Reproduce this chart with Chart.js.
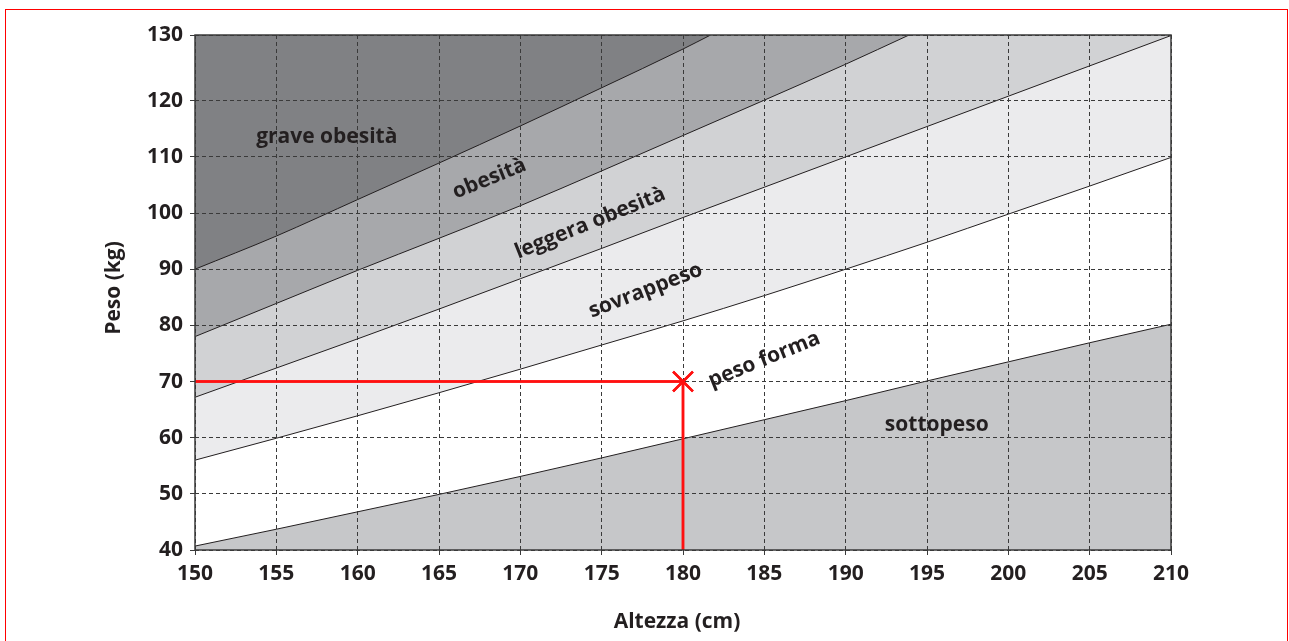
<!DOCTYPE html>
<html lang="it">
<head>
<meta charset="utf-8">
<title>Peso / Altezza</title>
<script src="https://cdn.jsdelivr.net/npm/chart.js@4.4.1/dist/chart.umd.min.js"></script>
<style>
  html, body { margin: 0; padding: 0; background: #ffffff; }
  body { width: 1289px; height: 641px; position: relative; overflow: hidden; }
  #chart { position: absolute; left: 0; top: 0; }
</style>
</head>
<body>
<canvas id="chart" width="1289" height="641"></canvas>
<script>
// ============================================
// DATA
// ============================================
const HEIGHTS = [150, 155, 160, 165, 170, 175, 180, 185, 190, 195, 200, 205, 210];

// upper limit of each zone, kg
const SOTTOPESO_LIMIT  = [40.7, 43.7, 46.8, 49.9, 53.1, 56.4, 59.8, 63.2, 66.6, 70.1, 73.5, 76.9, 80.2];
const PESO_FORMA_LIMIT = [56.0, 59.9, 63.9, 68.0, 72.2, 76.5, 80.8, 85.3, 90.0, 94.8, 99.8, 104.8, 109.9];
const SOVRAPPESO_LIMIT = [67.2, 72.4, 77.6, 82.9, 88.3, 93.7, 99.2, 104.6, 110.0, 115.4, 120.8, 126.2, 131.6];

// these two leave the chart through the top edge
const LEGGERA_HEIGHTS = [150, 155, 160, 165, 170, 175, 180, 185, 190, 193.9];
const LEGGERA_LIMIT   = [78.0, 83.9, 89.8, 95.5, 101.3, 107.5, 113.8, 120.1, 126.5, 131.7];
const OBESITA_HEIGHTS = [150, 155, 160, 165, 170, 175, 180, 181.7];
const OBESITA_LIMIT   = [90.0, 95.9, 102.4, 108.9, 115.5, 122.3, 129.2, 131.7];

// example person
const MY_HEIGHT = 180;
const MY_WEIGHT = 70;

const X_MIN = 150, X_MAX = 210, X_STEP = 5;
const Y_MIN = 40, Y_MAX = 131.7;
const Y_TICK_VALUES = [40, 50, 60, 70, 80, 90, 100, 110, 120, 131.7];
const Y_TICK_LABELS = ["40", "50", "60", "70", "80", "90", "100", "110", "120", "130"];

// zone names (drawn inside the chart)
const ZONE_NAMES = ["grave obesità", "obesità", "leggera obesità", "sovrappeso", "peso forma", "sottopeso"];
const ZONE_X     = [158.1, 168.1, 174.3, 177.7, 185.0, 195.6];
const ZONE_Y     = [113.6, 106.1, 98.2, 86.2, 73.9, 62.3];
const ZONE_ANGLE = [0, -22, -22, -21, -22, 0];

// ============================================
// STYLE
// ============================================
const FONT = "'Open Sans', 'DejaVu Sans', sans-serif";
const TEXT_COLOR = "#231f20";
const LINE_COLOR = "#231f20";
const RED = "#ff1010";
const COLORS = {
    grave: "#808184",
    obesita: "#a7a8ab",
    leggera: "#d1d2d4",
    sovrappeso: "#ebebed",
    sottopeso: "#c6c7c9"
};

function toPoints(xs, ys) {
    return xs.map((x, i) => ({ x: x, y: ys[i] }));
}

function zoneLine(xs, ys, fill, color) {
    return {
        data: toPoints(xs, ys),
        borderColor: LINE_COLOR,
        borderWidth: 1,
        backgroundColor: color,
        fill: fill,
        pointRadius: 0,
        cubicInterpolationMode: "monotone"
    };
}

// ============================================
// PLUGIN: red lines on top, frames, texts
// ============================================
const overlayPlugin = {
    id: "overlay",
    afterDraw(chart) {
        const { ctx, chartArea: a, scales } = chart;

        // the grid is drawn over the zones, so redraw the red marks over it
        [2, 1, 0].forEach(i => chart.getDatasetMeta(i).controller.draw());

        ctx.save();

        // thin red page frame
        ctx.strokeStyle = "#ff0000";
        ctx.lineWidth = 1;
        ctx.strokeRect(5.5, 9.5, 1282, 700);

        // plot frame
        ctx.strokeStyle = "#3a3a3a";
        ctx.lineWidth = 1.5;
        ctx.strokeRect(a.left, a.top, a.right - a.left, a.bottom - a.top);

        ctx.fillStyle = TEXT_COLOR;
        ctx.textAlign = "center";
        ctx.textBaseline = "middle";
        ctx.font = "bold 21px " + FONT;

        ZONE_NAMES.forEach((name, i) => {
            const px = scales.x.getPixelForValue(ZONE_X[i]);
            const py = scales.y.getPixelForValue(ZONE_Y[i]);
            ctx.save();
            ctx.translate(px, py);
            ctx.rotate(ZONE_ANGLE[i] * Math.PI / 180);
            ctx.fillText(name, 0, 0);
            ctx.restore();
        });

        // axis titles
        ctx.fillText("Altezza (cm)", (a.left + a.right) / 2 - 6, 622);
        ctx.save();
        ctx.translate(114, 288);
        ctx.rotate(-Math.PI / 2);
        ctx.fillText("Peso (kg)", 0, 0);
        ctx.restore();

        ctx.restore();
    }
};

// ============================================
// CHART
// ============================================
function drawChart() {
    const ctx = document.getElementById("chart").getContext("2d");

    const gridOpts = {
        color: "#3a3a3a",
        lineWidth: 1,
        z: 1,
        drawTicks: true,
        tickLength: 5,
        tickColor: "#3a3a3a",
        tickBorderDash: []
    };

    new Chart(ctx, {
        type: "line",
        data: {
            datasets: [
                // 0: the X marker
                {
                    data: [{ x: MY_HEIGHT, y: MY_WEIGHT }],
                    showLine: false,
                    pointStyle: "crossRot",
                    pointRadius: 14,
                    pointBorderColor: RED,
                    pointBorderWidth: 2.5,
                    borderColor: RED
                },
                // 1: horizontal red line
                {
                    data: [{ x: X_MIN, y: MY_WEIGHT }, { x: MY_HEIGHT, y: MY_WEIGHT }],
                    borderColor: RED,
                    borderWidth: 2.5,
                    pointRadius: 0
                },
                // 2: vertical red line
                {
                    data: [{ x: MY_HEIGHT, y: Y_MIN }, { x: MY_HEIGHT, y: MY_WEIGHT }],
                    borderColor: RED,
                    borderWidth: 2.5,
                    pointRadius: 0
                },
                zoneLine(OBESITA_HEIGHTS, OBESITA_LIMIT, "end", COLORS.grave),
                zoneLine(LEGGERA_HEIGHTS, LEGGERA_LIMIT, "end", COLORS.obesita),
                zoneLine(HEIGHTS, SOVRAPPESO_LIMIT, "end", COLORS.leggera),
                zoneLine(HEIGHTS, PESO_FORMA_LIMIT, "end", COLORS.sovrappeso),
                zoneLine(HEIGHTS, SOTTOPESO_LIMIT, "start", COLORS.sottopeso)
            ]
        },
        options: {
            responsive: false,
            animation: false,
            events: [],
            layout: { padding: { top: 35, right: 118, left: 0, bottom: 0 } },
            plugins: {
                legend: { display: false },
                tooltip: { enabled: false }
            },
            scales: {
                x: {
                    type: "linear",
                    min: X_MIN,
                    max: X_MAX,
                    grid: gridOpts,
                    border: { display: false, dash: [4, 3] },
                    ticks: {
                        stepSize: X_STEP,
                        color: TEXT_COLOR,
                        padding: 6,
                        maxRotation: 0,
                        font: { family: FONT, size: 21, weight: "bold" }
                    },
                    afterFit: s => { s.height = 91; }
                },
                y: {
                    type: "linear",
                    min: Y_MIN,
                    max: Y_MAX,
                    grid: gridOpts,
                    border: { display: false, dash: [4, 3] },
                    afterBuildTicks: s => { s.ticks = Y_TICK_VALUES.map(v => ({ value: v })); },
                    ticks: {
                        color: TEXT_COLOR,
                        padding: 7,
                        font: { family: FONT, size: 21, weight: "bold" },
                        callback: (value, index) => Y_TICK_LABELS[index]
                    },
                    afterFit: s => { s.width = 195; }
                }
            }
        },
        plugins: [overlayPlugin]
    });
}

Promise.all([
    document.fonts.load("bold 21px 'Open Sans'")
]).then(drawChart, drawChart);
</script>
</body>
</html>
